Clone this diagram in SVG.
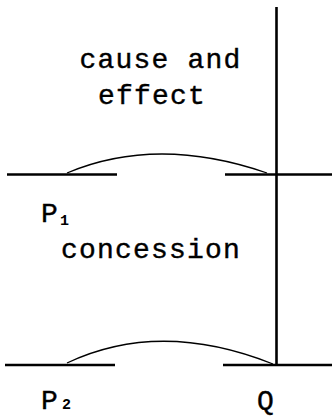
<svg xmlns="http://www.w3.org/2000/svg" width="332" height="419" viewBox="0 0 332 419">
  <style>
    .ln { stroke: #000; stroke-width: 2.6; fill: none; stroke-linecap: butt; }
    .arc { stroke: #000; stroke-width: 1.3; fill: none; }
    .t { font-family: "Liberation Mono", "Courier New", monospace; font-size: 28px; fill: #000; stroke: #000; stroke-width: 0.4px; letter-spacing: 1.2px; }
    .sub { font-family: "Liberation Mono", "Courier New", monospace; font-size: 15px; font-weight: bold; fill: #000; }
  </style>
  <rect width="332" height="419" fill="#fff"/>
  <g id="connectors">
    <line class="ln" x1="276.5" y1="7" x2="276.5" y2="366"/>
    <line class="ln" x1="7" y1="174.5" x2="117" y2="174.5"/>
    <line class="ln" x1="225" y1="174.5" x2="332" y2="174.5"/>
    <line class="ln" x1="5" y1="365" x2="115" y2="365"/>
    <line class="ln" x1="223" y1="365" x2="332" y2="365"/>
    <path class="arc" d="M67,173 Q157,135 267,173"/>
    <path class="arc" d="M67,363 Q160,319 273,364"/>
  </g>
  <g id="label-cause">
    <text class="t" x="79.5" y="68">cause and</text>
    <text class="t" x="98" y="104">effect</text>
  </g>
  <g id="node-P1">
    <text class="t" x="41" y="221.5">P</text>
    <text class="sub" x="60" y="225">1</text>
  </g>
  <g id="label-concession">
    <text class="t" x="61" y="258">concession</text>
  </g>
  <g id="node-P2">
    <text class="t" x="41" y="408.5">P</text>
    <text class="sub" x="62" y="408.5">2</text>
  </g>
  <g id="node-Q">
    <text class="t" x="257" y="409">Q</text>
  </g>
</svg>
